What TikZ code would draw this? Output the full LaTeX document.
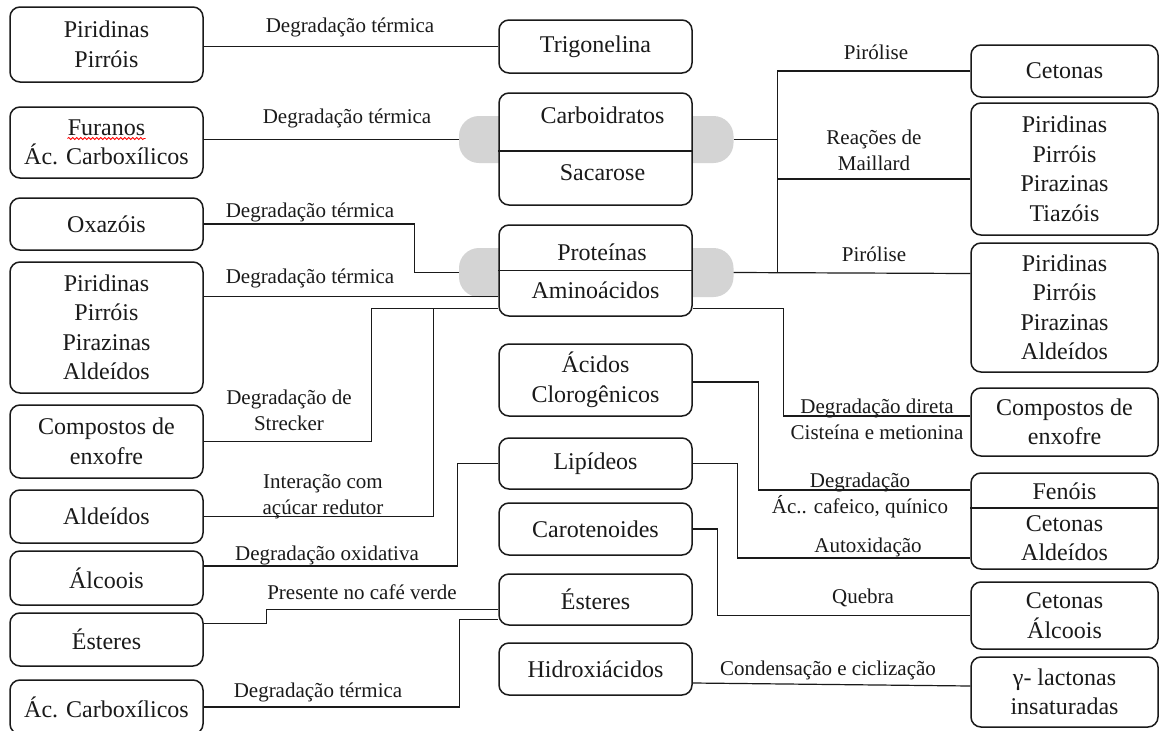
\documentclass[tikz,border=0pt]{standalone}
\usepackage{fontspec}
\setmainfont{Liberation Serif}
\usetikzlibrary{calc,decorations.pathmorphing}
\definecolor{tabgray}{HTML}{D4D4D4}
\definecolor{ink}{HTML}{1A1A1A}

\begin{document}
\begin{tikzpicture}[x=1pt,y=-1pt,
  box/.style={draw=ink,line width=1.5pt,rounded corners=10pt,fill=white,align=center,inner sep=0pt,text=ink,font=\fontsize{24}{29.5}\selectfont},
  lcol/.style={box,minimum width=193pt},
  rcol/.style={box,minimum width=187pt},
  txt/.style={inner sep=0pt,align=center,text=ink,font=\fontsize{24}{29.5}\selectfont},
  tab/.style={fill=tabgray,rounded corners=20pt,minimum width=61pt,inner sep=0pt},
  lbl/.style={inner sep=0pt,align=center,text=ink,font=\fontsize{21}{26}\selectfont},
  conn/.style={draw=ink,line width=1.2pt}]
  \useasboundingbox[fill=white] (0,0) rectangle (1160,731);

  \node[tab,minimum height=47pt] (cL) at (489.5,139.5) {};
  \node[tab,minimum height=47pt] (cR) at (703,139.5) {};
  \node[tab,minimum height=49pt] (pL) at (489.5,272.5) {};
  \node[tab,minimum height=49pt] (pR) at (703,272.5) {};

  \node[lcol,minimum height=75pt] (lA) at (106.5,44.5) {Piridinas\\Pirróis};
  \node[lcol,minimum height=71pt] (lB) at (106.5,142.5) {Furanos\\Ác. Carboxílicos};
  \node[lcol,minimum height=52pt] (lC) at (106.5,224) {Oxazóis};
  \node[lcol,minimum height=131pt] (lD) at (106.5,327.5) {Piridinas\\Pirróis\\Pirazinas\\Aldeídos};
  \node[lcol,minimum height=73pt] (lE) at (106.5,441.5) {Compostos de\\enxofre};
  \node[lcol,minimum height=53pt] (lF) at (106.5,516.5) {Aldeídos};
  \node[lcol,minimum height=54pt] (lG) at (106.5,578) {Álcoois};
  \node[lcol,minimum height=53pt] (lH) at (106.5,639.5) {Ésteres};
  \node[lcol,minimum height=54pt] (lI) at (106.5,707) {Ác. Carboxílicos};

  \node[lcol,minimum height=53pt] (mA) at (595.5,46.5) {Trigonelina};
  \node[lcol,minimum height=112pt] (mB) at (595.5,149) {};
  \node[txt] (mBa) at ($(mB.center)+(7,-34)$) {Carboidratos};
  \node[txt] (mBb) at ($(mB.center)+(7,24)$) {Sacarose};
  \node[lcol,minimum height=91pt] (mC) at (595.5,270.5) {};
  \node[txt] (mCa) at ($(mC.center)+(6.5,-18.5)$) {Proteínas};
  \node[txt] (mCb) at ($(mC.center)+(0,19.5)$) {Aminoácidos};
  \node[lcol,minimum height=72pt] (mD) at (595.5,380) {Ácidos\\Clorogênicos};
  \node[lcol,minimum height=51pt] (mE) at (595.5,463.5) {Lipídeos};
  \node[lcol,minimum height=52pt] (mF) at (595.5,529) {Carotenoides};
  \node[lcol,minimum height=51pt] (mG) at (595.5,599.5) {Ésteres};
  \node[lcol,minimum height=52pt] (mH) at (595.5,669) {Hidroxiácidos};

  \node[rcol,minimum height=52pt] (rA) at (1064.5,71) {Cetonas};
  \node[rcol,minimum height=132pt] (rB) at (1064.5,169) {Piridinas\\Pirróis\\Pirazinas\\Tiazóis};
  \node[rcol,minimum height=129pt] (rC) at (1064.5,307.5) {Piridinas\\Pirróis\\Pirazinas\\Aldeídos};
  \node[rcol,minimum height=68pt] (rD) at (1064.5,422) {Compostos de\\enxofre};
  \node[rcol,minimum height=96pt] (rE) at (1064.5,521) {};
  \node[txt] (rEa) at ($(rE.center)+(0,-30)$) {Fenóis};
  \node[txt] (rEb) at ($(rE.center)+(0,17)$) {Cetonas\\Aldeídos};
  \node[rcol,minimum height=67pt] (rF) at (1064.5,615.5) {Cetonas\\Álcoois};
  \node[rcol,minimum height=70pt] (rG) at (1064.5,692) {γ- lactonas\\insaturadas};

  \draw[draw=ink,line width=1.5pt] ($(mB.west)+(0,2)$) -- ($(mB.east)+(0,2)$);
  \draw[draw=ink,line width=1.5pt] (mC.west) -- (mC.east);
  \draw[draw=ink,line width=1.5pt] ($(rE.west)+(0,-13)$) -- ($(rE.east)+(0,-13)$);
  \draw[red,line width=0.8pt,decorate,decoration={snake,amplitude=1pt,segment length=4pt}]
    ($(lB.center)+(-39,-4)$) -- ($(lB.center)+(39,-4)$);

  \draw[conn] (lA.east |- mA.west) -- (mA.west);
  \draw[conn] (lB.east |- cL.west) -- (cL.west);
  \draw[conn] (lC.east) -- ++(211,0) |- (pL.west);
  \coordinate (amA) at ($(mC.south west)+(0,-20)$);
  \coordinate (amB) at ($(mC.south west)+(0,-8)$);
  \draw[conn] (lD.east |- amA) -- (amA);
  \draw[conn] (amB) -- ++(-127,0) |- (lE.east);
  \draw[conn] (amB) -- ++(-65,0) |- (lF.east);
  \draw[conn] (mE.west) -- ++(-41,0) |- ($(lG.east)+(0,-12)$);
  \draw[conn] ($(lH.east)+(0,-16)$) -- ++(63,0) |- ($(mG.west)+(0,10)$);
  \draw[conn] (lI.east) -- ++(256,0) |- ($(mG.west)+(0,20)$);

  \draw[conn] (rA.west) -- ++(-193,0) coordinate (hubT) -- ++(0,202) coordinate (hubB);
  \draw[conn] (cR.east) -- (cR.east -| hubT);
  \draw[conn] ($(rB.west)+(0,10)$) -- ++(-193,0);
  \draw[conn] (pR.east) -- ($(rC.west)+(0,-34)$);
  \draw[conn] ($(mC.south east)+(0,-8)$) -- ++(91,0) |- ($(rD.west)+(0,-6)$);
  \draw[conn] ($(mD.east)+(0,2)$) -- ++(66,0) |- ($(rE.west)+(0,-31)$);
  \draw[conn] (mE.east) -- ++(45,0) |- ($(rE.west)+(0,37)$);
  \draw[conn] (mF.east) -- ++(25,0) |- (rF.west);
  \draw[conn] ($(mH.east)+(0,14)$) -- ($(rG.west)+(0,-6)$);

  \node[lbl] (t1) at (350,27) {Degradação térmica};
  \node[lbl] (t2) at (347,118) {Degradação térmica};
  \node[lbl] (t3) at (310,212) {Degradação térmica};
  \node[lbl] (t4) at (310,278) {Degradação térmica};
  \node[lbl] (t5) at (289,410) {Degradação de\\Strecker};
  \node[lbl] (t6) at (323,497) {Interação com\\açúcar redutor};
  \node[lbl] (t7) at (327,555) {Degradação oxidativa};
  \node[lbl] (t8) at (362,592) {Presente no café verde};
  \node[lbl] (t9) at (318,692) {Degradação térmica};
  \node[lbl] (t10) at (876,52) {Pirólise};
  \node[lbl] (t11) at (874,150) {Reações de\\Maillard};
  \node[lbl] (t12) at (874,254) {Pirólise};
  \node[lbl] (t13) at (877,419) {Degradação direta\\Cisteína e metionina};
  \node[lbl] (t14) at (860,495) {Degradação\\Ác.. cafeico, quínico};
  \node[lbl] (t15) at (868,547) {Autoxidação};
  \node[lbl] (t16) at (863,598) {Quebra};
  \node[lbl] (t17) at (828,670) {Condensação e ciclização};
\end{tikzpicture}
\end{document}
